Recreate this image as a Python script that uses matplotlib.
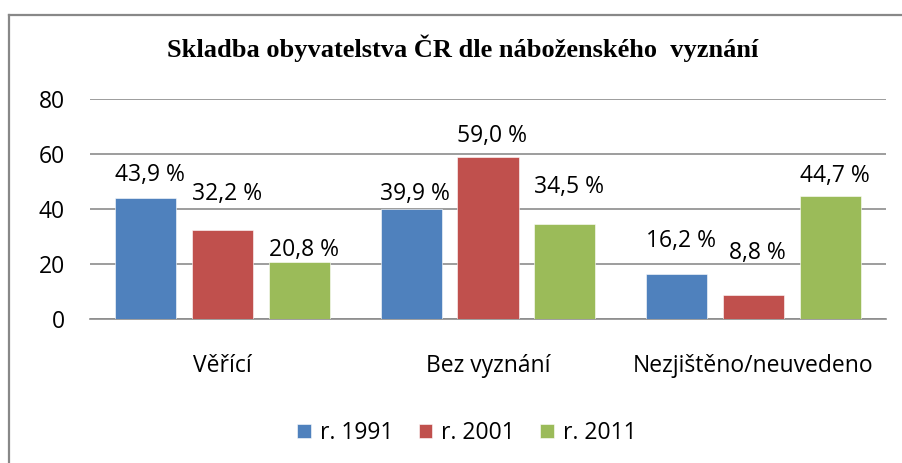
import numpy as np
import matplotlib
matplotlib.use("Agg")
import matplotlib.pyplot as plt
from matplotlib.lines import Line2D

# data
categories = ["Věřící", "Bez vyznání", "Nezjištěno/neuvedeno"]
years = ["r. 1991", "r. 2001", "r. 2011"]
v1991 = [43.9, 39.9, 16.2]
v2001 = [32.2, 59.0, 8.8]
v2011 = [20.8, 34.5, 44.7]
yticks = [0, 20, 40, 60, 80]

colors = ["#4F81BD", "#C0504D", "#9BBB59"]
# vertical gap (px) between bar top and label centre, as placed in the original
label_dy = [[23, 15, 33], [36, 21, 42], [12, 37, 20]]

plt.rcParams["font.family"] = ["Open Sans", "DejaVu Sans"]
fs = 16.5

fig = plt.figure(figsize=(9.02, 4.63), dpi=100)
ax = fig.add_axes([90 / 902, 1 - 319 / 463, (886 - 90) / 902, (319 - 99) / 463])

x = np.arange(len(categories))
w = 0.23
step = 0.29
series = [v1991, v2001, v2011]
for i, vals in enumerate(series):
    pos = x + (i - 1) * step
    ax.bar(pos, vals, width=w, color=colors[i], edgecolor="white", linewidth=0.4,
           label=years[i], zorder=3)
    for j, v in enumerate(vals):
        ax.annotate(f"{v:.1f} %".replace(".", ","), (pos[j], v),
                    xytext=(3, label_dy[i][j] * 0.72), textcoords="offset points",
                    ha="center", va="center", fontsize=fs, color="black")

ax.set_xlim(-0.5, 2.5)
ax.set_ylim(0, 80)
ax.set_yticks(yticks)
ax.set_xticks(x)
ax.set_xticklabels(categories)
ax.tick_params(axis="y", length=0, pad=18, labelsize=fs)
ax.tick_params(axis="x", length=0, pad=25, labelsize=fs)
ax.grid(axis="y", color="#8c8c8c", linewidth=1.2, zorder=0)
for s in ["top", "right", "left"]:
    ax.spines[s].set_visible(False)
ax.spines["bottom"].set_color("#8c8c8c")
ax.spines["bottom"].set_linewidth(1.2)

fig.text(463 / 902, 1 - 48 / 463, "Skladba obyvatelstva ČR dle náboženského  vyznání",
         ha="center", va="center", fontsize=19, fontweight="bold",
         family=["Liberation Serif", "DejaVu Serif"])

fig.legend(loc="center", bbox_to_anchor=(467 / 902, 1 - 433 / 463), ncol=3, frameon=False,
           fontsize=fs, handlelength=0.6, handleheight=0.6, handletextpad=0.4,
           columnspacing=1.1)

# chart frame (only top and left edges fall inside the picture)
fig.add_artist(Line2D([9 / 902, 1], [1 - 15 / 463, 1 - 15 / 463], color="#888888",
                      linewidth=1.6, transform=fig.transFigure))
fig.add_artist(Line2D([9 / 902, 9 / 902], [0, 1 - 15 / 463], color="#888888",
                      linewidth=1.6, transform=fig.transFigure))

fig.savefig("out.png", dpi=100)
